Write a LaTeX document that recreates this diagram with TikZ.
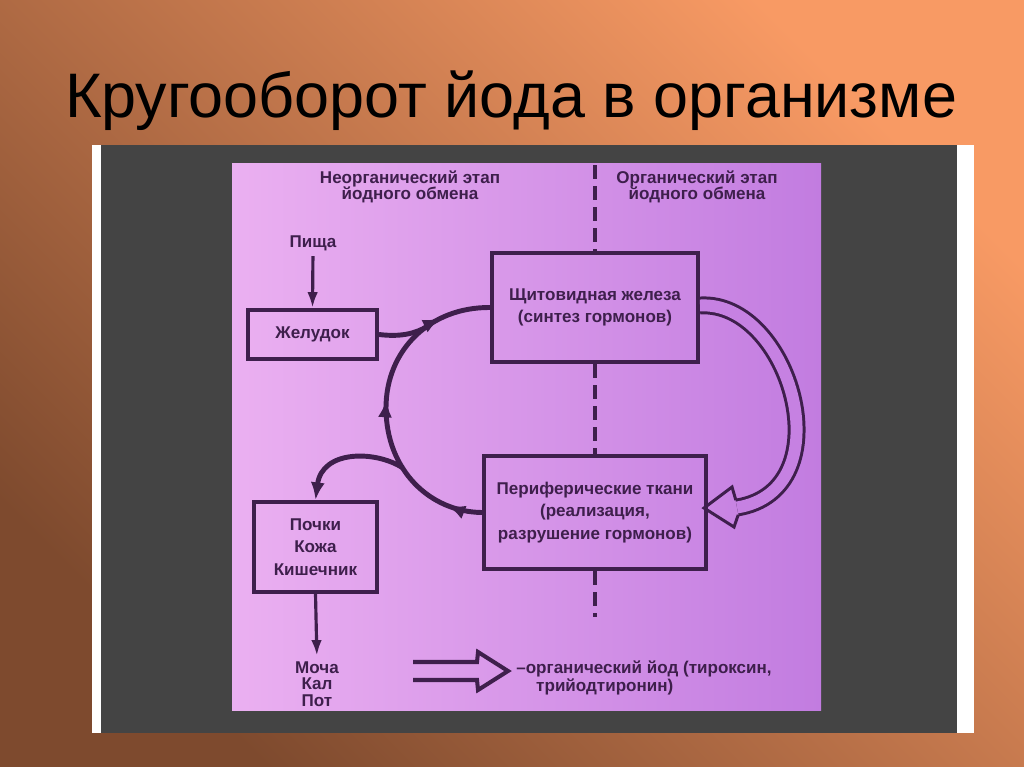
\documentclass[tikz,border=0pt]{standalone}
\usepackage{fontspec}
\setmainfont{Liberation Sans}
\usetikzlibrary{arrows.meta,decorations.markings,calc}
\definecolor{bgdark}{HTML}{7E4A2E}
\definecolor{bglight}{HTML}{F89A64}
\definecolor{panel}{HTML}{444444}
\definecolor{pl}{HTML}{EBB0F1}
\definecolor{pr}{HTML}{C27CE0}
\definecolor{ink}{HTML}{3E1F4C}
\newcommand\diagfont{\fontsize{9.7}{12.8}\selectfont\bfseries}
\newcommand\hdrfont{\fontsize{9.7}{9.4}\selectfont\bfseries}
\tikzset{
  stagebox/.style={draw=ink, line width=2.3pt, inner sep=0pt, align=center, text=ink, font=\diagfont},
  lbl/.style={text=ink, font=\hdrfont, align=center, inner sep=0pt},
  flow/.style={draw=ink, line width=2.8pt},
  thinarrow/.style={draw=ink, line width=1.8pt, -{Latex[length=9pt,width=6pt]}},
  loopmarks/.style={decoration={markings,
      mark=at position 0.11 with {\arrow{Latex[length=10pt,width=8pt]}},
      mark=at position 0.52 with {\arrow{Latex[length=10pt,width=8pt]}},
      mark=at position 0.84 with {\arrow{Latex[length=10pt,width=8pt]}}},
    postaction=decorate},
  hollow/.style={draw=ink, line width=1.7pt, double=pr!90!pl, double distance=6.8pt},
  hollowhead/.style={draw=ink, line width=1.7pt, line join=miter}
}
\begin{document}
\begin{tikzpicture}[x=0.02cm, y=-0.02cm]
\useasboundingbox (0,0) rectangle (1024,767);
% background
\shade[bottom color=bgdark, top color=bglight, shading angle=-45] (0,0) rectangle (1024,767);
% title
\node[anchor=base, font=\fontsize{35.8}{40}\selectfont, text=black, inner sep=0pt] (title) at (511,117) {Кругооборот йода в организме};
% slide frame
\fill[white] (92,145) rectangle (974,733);
\fill[panel] (101,145) rectangle (957,733);
\shade[left color=pl, right color=pr] (232,163) rectangle (821,710);
% headers
\node[lbl] (hl) at (410,187) {Неорганический этап\\йодного обмена};
\node[lbl] (hr) at (697,187) {Органический этап\\йодного обмена};
% boxes
\node[stagebox, minimum width=129*0.02cm, minimum height=49*0.02cm] (zhel) at (312.5,334.5) {Желудок};
\node[stagebox, minimum width=206*0.02cm, minimum height=109*0.02cm] (shch) at (595,307.5) {Щитовидная железа\\(синтез гормонов)};
\node[stagebox, minimum width=222*0.02cm, minimum height=113*0.02cm] (peri) at (595,512.5) {Периферические ткани\\(реализация,\\разрушение гормонов)};
\node[stagebox, minimum width=123*0.02cm, minimum height=90*0.02cm] (poch) at (315.5,547) {Почки\\Кожа\\Кишечник};
% labels
\node[lbl] (pisha) at (313,243) {Пища};
\node[lbl] (mocha) at (317,684) {Моча\\Кал\\Пот};
\node[lbl, align=left, anchor=west, font=\fontsize{9.7}{8.6}\selectfont\bfseries] (legtext) at (516,677.5) {–органический йод (тироксин,\\\phantom{–о}трийодтиронин)};
% dashed divider
\coordinate (dtop) at (595,165);
\coordinate (dbot) at (595,617);
\draw[ink, line width=1.8pt, dash pattern=on 8pt off 4pt] (dtop) -- (shch.north);
\draw[ink, line width=1.8pt, dash pattern=on 8pt off 4pt] (shch.south) -- (peri.north);
\draw[ink, line width=1.8pt, dash pattern=on 8pt off 4pt] (peri.south) -- (dbot);
% straight arrows
\draw[thinarrow, shorten <=3pt] (pisha.south) -- (zhel.north);
\draw[thinarrow, shorten >=3pt] (poch.south) -- (mocha.north);
% loop
\draw[flow, loopmarks] (peri.west) .. controls (430,512) and (386,470) .. (386,408)
   .. controls (386,350) and (430,307) .. (shch.west);
\coordinate (jn) at (428,326);
\coordinate (br) at (403,468);
\draw[flow] (zhel.east) .. controls (400,337) and (415,334) .. (jn);
\draw[flow, -{Latex[length=10pt,width=8pt]}] (br) .. controls (375,450) and (322,450) .. (poch.north);
% hollow curved arrow
\coordinate (hs) at ($(shch.east)+(0,-2)$);
\coordinate (he) at ($(peri.east)+(29,-5)$);
\draw[hollow] (hs) .. controls (790,300) and (845,490) .. (he);
\draw[hollowhead] ($(peri.east)+(27.8,-12.4)$) -- ($(peri.east)+(24,-25.5)$) -- ($(peri.east)+(-4,-4.5)$) -- ($(peri.east)+(26,14.5)$) -- ($(peri.east)+(30.2,2.4)$);
% legend arrow
\draw[ink, line width=2.3pt, line join=miter] (413,662) -- (477,662) -- (478,652) -- (508,671) -- (478,690) -- (477,680) -- (413,680);
\end{tikzpicture}
\end{document}
